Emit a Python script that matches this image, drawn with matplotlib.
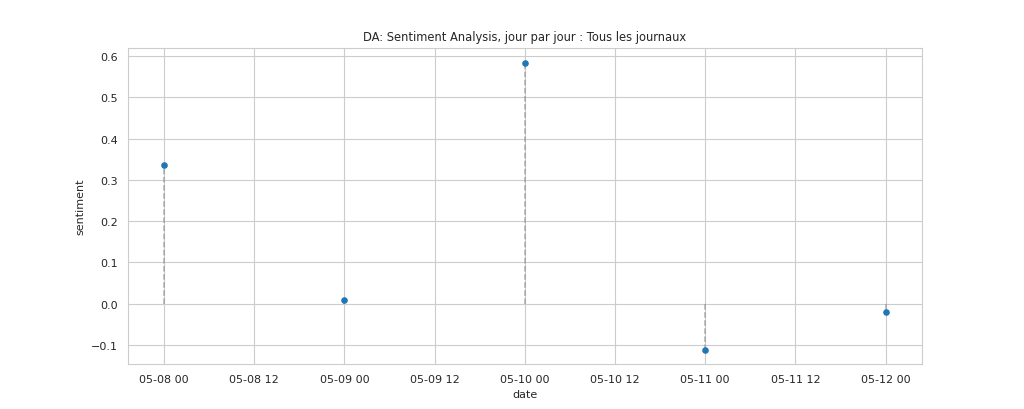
import pandas as pd
import numpy as np
import matplotlib
matplotlib.use("Agg")
import matplotlib.pyplot as plt
import matplotlib.dates as mdates
import seaborn as sns

dates = pd.to_datetime(["2020-05-08", "2020-05-09", "2020-05-10", "2020-05-11", "2020-05-12"])
sentiment = [0.336, 0.008, 0.583, -0.113, -0.020]

sns.set_style("whitegrid")
fig, ax = plt.subplots(figsize=(10.24, 4.1), dpi=100)

ax.vlines(dates, 0, sentiment, colors="gray", linestyles="dashed", alpha=0.6, linewidth=1.1)
ax.scatter(dates, sentiment, s=14, color="#1f77b4", zorder=3)

ax.xaxis.set_major_locator(mdates.HourLocator(byhour=[0, 12]))
ax.xaxis.set_major_formatter(mdates.DateFormatter("%m-%d %H"))
ax.set_ylim(-0.146, 0.619)
ax.tick_params(labelsize=8)
ax.set_xlabel("date", fontsize=8)
ax.set_ylabel("sentiment", fontsize=8)
ax.set_title("DA: Sentiment Analysis, jour par jour : Tous les journaux", fontsize=8.3)

fig.savefig("out.png", dpi=100)
